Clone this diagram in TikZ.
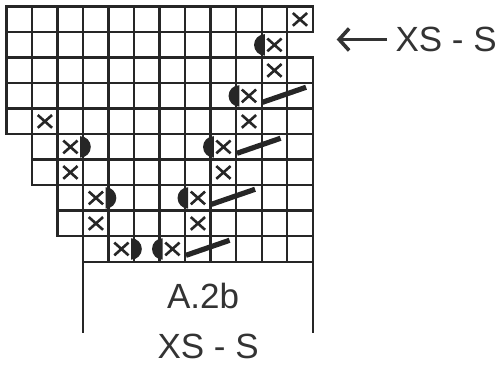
\documentclass[tikz,border=0pt]{standalone}
\usepackage{fontspec}
\setmainfont{Liberation Sans}
\usetikzlibrary{arrows.meta}
\definecolor{ChartInk}{RGB}{38,38,38}
\definecolor{LabelInk}{RGB}{51,51,51}
\tikzset{
  cellbox/.style={draw=ChartInk, line width=1.2pt},
  xmark/.style={draw=ChartInk, line width=1.3pt},
  halfdot/.style={fill=ChartInk},
  slantbar/.style={draw=ChartInk, line width=2.6pt},
  sizelabel/.style={font=\fontsize{17.5}{21}\selectfont, text=LabelInk, inner sep=0pt},
  sizearrow/.style={-{Straight Barb[length=5pt,width=11pt]}, line width=1.8pt, draw=LabelInk}
}
\begin{document}
\begin{tikzpicture}[x=12.75pt, y=12.75pt]
  \useasboundingbox (-0.26,0.26) rectangle (19.46,-14.33);

  % chart rows: row / first column / last column
  \foreach \r/\s/\e in {1/1/12, 2/1/11, 3/1/12, 4/1/12, 5/1/12, 6/2/12, 7/2/12, 8/3/12, 9/3/12, 10/4/12}
    \foreach \c in {\s,...,\e}
      \draw[cellbox] (\c-1,1-\r) rectangle (\c,-\r);

  % crossed cells
  \foreach \c/\r in {12/1, 11/2, 11/3, 10/4, 2/5, 10/5, 3/6, 9/6, 3/7, 9/7, 4/8, 8/8, 4/9, 8/9, 5/10, 7/10}
    \draw[xmark] (\c-0.78,0.75-\r) -- (\c-0.22,0.25-\r) (\c-0.78,0.25-\r) -- (\c-0.22,0.75-\r);

  % half dots, left and right side
  \foreach \c/\r in {11/2, 10/4, 9/6, 8/8, 7/10}
    \fill[halfdot] (\c-0.88,0.92-\r) arc[start angle=90, end angle=270, x radius=0.42, y radius=0.42];
  \foreach \c/\r in {3/6, 4/8, 5/10}
    \fill[halfdot] (\c-0.12,0.92-\r) arc[start angle=90, end angle=-90, x radius=0.42, y radius=0.42];

  % slanted bars
  \foreach \c/\r in {11/4, 10/6, 9/8, 8/10}
    \draw[slantbar] (\c-0.97,0.25-\r) -- (\c+0.74,0.84-\r);

  % size box under the chart
  \draw[cellbox] (3,-10) -- (3,-12.8) (12,-10) -- (12,-12.8);
  \node[sizelabel, anchor=base] (chartname) at (7.7,-11.85) {A.2b};
  \node[sizelabel, anchor=base] (boxsize) at (7.9,-13.81) {XS - S};

  \node[sizelabel, anchor=base west] (rowsize) at (15.23,-1.76) {XS - S};
  \coordinate (rowmark) at (12.94,-1.31);
  \draw[sizearrow, shorten <=4pt] (rowsize.west) -- (rowmark |- rowsize.west);
\end{tikzpicture}
\end{document}
